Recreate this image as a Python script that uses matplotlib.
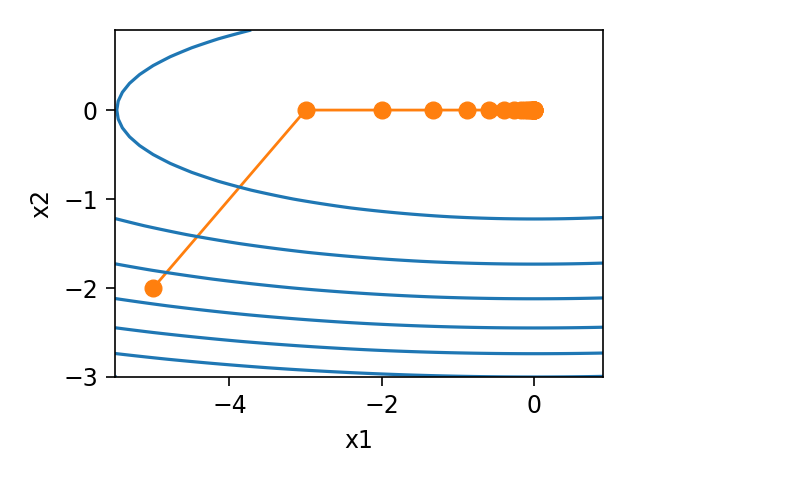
import numpy as np
import matplotlib.pyplot as plt

# trajectory
traj_x1 = [-5.0, -3.0, -2.0, -1.333, -0.889, -0.593, -0.395, -0.263, -0.176,
           -0.117, -0.078, -0.052, -0.035, -0.023, -0.015, -0.010, -0.007,
           -0.005, -0.003, -0.002, -0.001]
traj_x2 = [-2.0] + [0.0] * 20

x1_range = (-5.5, 1.0)
x2_range = (-3.0, 1.0)


def f(x1, x2):
    return 0.1 * x1 ** 2 + 2 * x2 ** 2


plt.rcParams['font.size'] = 17
plt.rcParams['xtick.major.size'] = 6.3
plt.rcParams['ytick.major.size'] = 6.3
plt.rcParams['xtick.major.width'] = 1.2
plt.rcParams['ytick.major.width'] = 1.2
plt.rcParams['xtick.major.pad'] = 6
plt.rcParams['ytick.major.pad'] = 6
plt.rcParams['axes.linewidth'] = 1.2

fig = plt.figure(figsize=(7.95, 4.86), dpi=100)
ax = fig.add_axes([0.1447, 0.2243, 0.6138, 0.714])

ax.plot(traj_x1, traj_x2, '-o', color='#ff7f0e', lw=2.0, ms=12)

x1, x2 = np.meshgrid(np.arange(*x1_range, 0.1), np.arange(*x2_range, 0.1))
ax.contour(x1, x2, f(x1, x2), colors='#1f77b4', linewidths=2.3)

ax.set_xlim(-5.5, 0.9)
ax.set_ylim(-3.0, 0.9)
ax.set_xticks([-4, -2, 0])
ax.set_yticks([-3, -2, -1, 0])
ax.set_xlabel('x1', labelpad=8)
ax.set_ylabel('x2', labelpad=7)

fig.savefig('out.png', dpi=100)
